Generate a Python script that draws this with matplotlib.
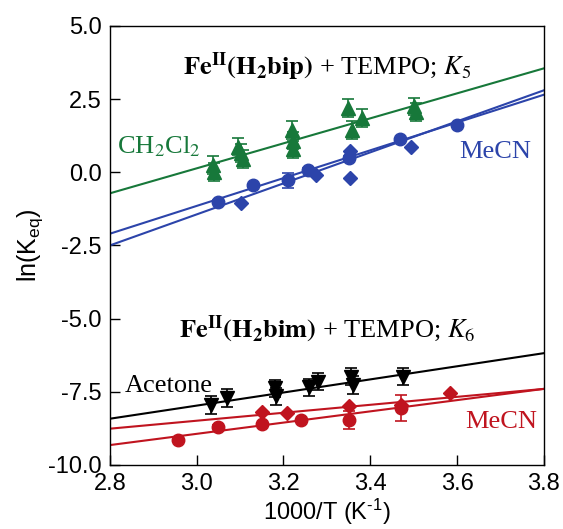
import matplotlib
matplotlib.use("Agg")
import matplotlib.pyplot as plt
import numpy as np

plt.rcParams['font.family'] = 'Liberation Sans'
plt.rcParams['axes.unicode_minus'] = False
plt.rcParams['mathtext.fontset'] = 'custom'
plt.rcParams['mathtext.rm'] = 'Liberation Sans'
plt.rcParams['mathtext.it'] = 'Liberation Sans:italic'

GREEN = '#17783a'
BLUE = '#2c44aa'
RED = '#c0141f'
BLACK = '#000000'

# Fe(H2bip) + TEMPO, CH2Cl2 (triangles up)
dcm_x = [3.038, 3.040, 3.096, 3.102, 3.107, 3.219, 3.221, 3.223, 3.349, 3.357, 3.380, 3.500, 3.505]
dcm_y = [0.25, 0.00, 0.88, 0.65, 0.45, 1.45, 1.08, 0.78, 2.19, 1.45, 1.85, 2.25, 2.05]
dcm_err = [0.3] * 13

# Fe(H2bip) + TEMPO, MeCN circles and diamonds
bip_c_x = [3.050, 3.130, 3.210, 3.257, 3.350, 3.468, 3.600]
bip_c_y = [-1.00, -0.45, -0.28, 0.08, 0.50, 1.13, 1.60]
bip_c_err = [0.05, 0.05, 0.25, 0.05, 0.05, 0.05, 0.05]
bip_d_x = [3.103, 3.276, 3.353, 3.353, 3.495]
bip_d_y = [-1.06, -0.09, 0.72, -0.18, 0.88]

# Fe(H2bim) + TEMPO, acetone (triangles down)
ace_x = [3.034, 3.069, 3.180, 3.184, 3.260, 3.280, 3.355, 3.360, 3.476]
ace_y = [-7.95, -7.72, -7.38, -7.66, -7.35, -7.15, -6.98, -7.27, -6.98]
ace_err = [0.3] * 9

# Fe(H2bim) + TEMPO, MeCN circles and diamonds
bim_c_x = [2.957, 3.050, 3.151, 3.241, 3.351, 3.472]
bim_c_y = [-9.14, -8.69, -8.60, -8.48, -8.46, -8.05]
bim_c_err = [0.05, 0.05, 0.05, 0.05, 0.3, 0.45]
bim_d_x = [3.151, 3.209, 3.351, 3.470, 3.583]
bim_d_y = [-8.18, -8.24, -8.00, -7.95, -7.55]

# fitted lines: value at x=2.8 and at x=3.8
fit_x = [2.8, 3.8]
dcm_fit = [-0.72, 3.55]
bip_c_fit = [-2.10, 2.65]
bip_d_fit = [-2.50, 2.80]
ace_fit = [-8.42, -6.18]
bim_c_fit = [-9.32, -7.40]
bim_d_fit = [-8.76, -7.40]

fig = plt.figure(figsize=(5.63, 5.29), dpi=100)
ax = fig.add_axes([0.195, 0.121, 0.771, 0.830])

ax.plot(fit_x, dcm_fit, color=GREEN, lw=1.5)
ax.plot(fit_x, bip_c_fit, color=BLUE, lw=1.5)
ax.plot(fit_x, bip_d_fit, color=BLUE, lw=1.5)
ax.plot(fit_x, ace_fit, color=BLACK, lw=1.5)
ax.plot(fit_x, bim_c_fit, color=RED, lw=1.5)
ax.plot(fit_x, bim_d_fit, color=RED, lw=1.5)

eb = dict(linestyle='none', capsize=4, elinewidth=1.2, capthick=1.2)
ax.errorbar(dcm_x, dcm_y, yerr=dcm_err, marker='^', ms=10, color=GREEN, **eb)
ax.errorbar(bip_c_x, bip_c_y, yerr=bip_c_err, marker='o', ms=9, color=BLUE, **eb)
ax.plot(bip_d_x, bip_d_y, 'D', ms=7.5, color=BLUE, linestyle='none')
ax.errorbar(ace_x, ace_y, yerr=ace_err, marker='v', ms=10, color=BLACK, **eb)
ax.errorbar(bim_c_x, bim_c_y, yerr=bim_c_err, marker='o', ms=9, color=RED, **eb)
ax.plot(bim_d_x, bim_d_y, 'D', ms=7.5, color=RED, linestyle='none')

ax.set_xlim(2.8, 3.8)
ax.set_ylim(-10, 5)
ax.set_xticks([2.8, 3.0, 3.2, 3.4, 3.6, 3.8])
ax.set_yticks([5.0, 2.5, 0.0, -2.5, -5.0, -7.5, -10.0])
ax.xaxis.set_major_formatter(matplotlib.ticker.FormatStrFormatter('%.1f'))
ax.yaxis.set_major_formatter(matplotlib.ticker.FormatStrFormatter('%.1f'))
ax.tick_params(direction='in', length=7, width=1, labelsize=17, top=False, right=False)
ax.tick_params(axis='x', pad=6)
ax.tick_params(axis='y', pad=6)
for s in ax.spines.values():
    s.set_linewidth(1)

ax.set_xlabel(r'1000/T (K$^{\text{-}1}$)', fontsize=17, labelpad=1)
ax.set_ylabel(r'ln(K$_{\mathrm{eq}}$)', fontsize=18, labelpad=2)

serif = dict(family='Liberation Serif', math_fontfamily='stix', fontsize=19)
ax.text(3.3, 3.33, r'$\mathbf{Fe^{II}(H_2bip)}$ + TEMPO; $K_5$', ha='center', va='baseline', **serif)
ax.text(3.3, -5.66, r'$\mathbf{Fe^{II}(H_2bim)}$ + TEMPO; $K_6$', ha='center', va='baseline', **serif)
ax.text(2.816, 0.66, r'CH$_2$Cl$_2$', color=GREEN, ha='left', va='baseline', **serif)
ax.text(3.606, 0.49, 'MeCN', color=BLUE, ha='left', va='baseline', **serif)
ax.text(2.835, -7.5, 'Acetone', color=BLACK, ha='left', va='baseline', **serif)
ax.text(3.618, -8.73, 'MeCN', color=RED, ha='left', va='baseline', **serif)

fig.savefig('out.png', dpi=100)
